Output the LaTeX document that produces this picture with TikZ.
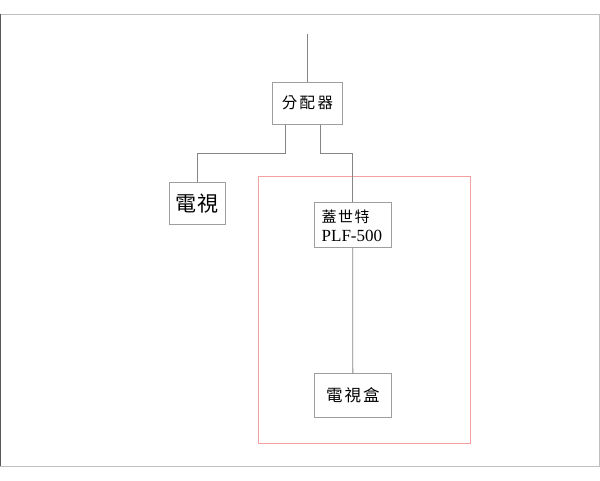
\documentclass[tikz,border=0pt]{standalone}
\usepackage{fontspec}
\setmainfont{Liberation Serif}
\newfontfamily\cjk{Noto Sans CJK TC}
\begin{document}
\begin{tikzpicture}[x=1pt,y=-1pt,
  wire/.style={draw=black!48,line width=0.9pt},
  boxnode/.style={draw=black!38,line width=0.9pt,inner sep=0pt,anchor=center,fill=white}]
\useasboundingbox (0,0) rectangle (600,480);
\fill[white] (0,0) rectangle (600,480);
% outer frame
\draw[black!25,line width=1pt] (0.5,14) rectangle (599.5,466);
\draw[black!65,line width=1pt] (0.5,14) -- (0.5,466);
% red frame
\draw[draw={rgb,255:red,244;green,160;blue,160},line width=0.9pt] (258.7,176.3) rectangle (470.3,443);
% nodes
\node[boxnode,minimum width=70.4pt,minimum height=41.7pt] (fp) at (307.5,103.2) {\cjk\fontsize{15.5}{15.5}\selectfont 分\hspace{2.5pt}配\hspace{2.5pt}器};
\node[boxnode,minimum width=55.7pt,minimum height=41.7pt] (tv) at (197.2,203.2) {\cjk\fontsize{21}{21}\selectfont 電\hspace{1.5pt}視};
\node[boxnode,minimum width=76.7pt,minimum height=44.6pt] (gst) at (352.7,225) {};
\node[anchor=west,inner sep=0pt] (gstt) at (321.5,216.5) {\cjk\fontsize{15}{15}\selectfont 蓋\hspace{1.5pt}世\hspace{1.5pt}特};
\node[anchor=west,inner sep=0pt] (gstp) at (321.5,236) {\fontsize{17}{17}\selectfont PLF-500};
\node[boxnode,minimum width=77pt,minimum height=44.4pt] (stb) at (352.8,395.5) {\cjk\fontsize{16.5}{16.5}\selectfont 電\hspace{2pt}視\hspace{2pt}盒};
% connectors
\coordinate (top) at (307.5,34);
\coordinate (bus) at (0,153.3);
\draw[wire] (top) -- (fp.north);
\draw[wire] ([xshift=-21.8pt]fp.south) -- ([xshift=-21.8pt]fp.south |- bus) -| (tv.north);
\draw[wire] ([xshift=13.2pt]fp.south) -- ([xshift=13.2pt]fp.south |- bus) -| (gst.north);
\draw[wire] (gst.south) -- (stb.north);
\end{tikzpicture}
\end{document}
